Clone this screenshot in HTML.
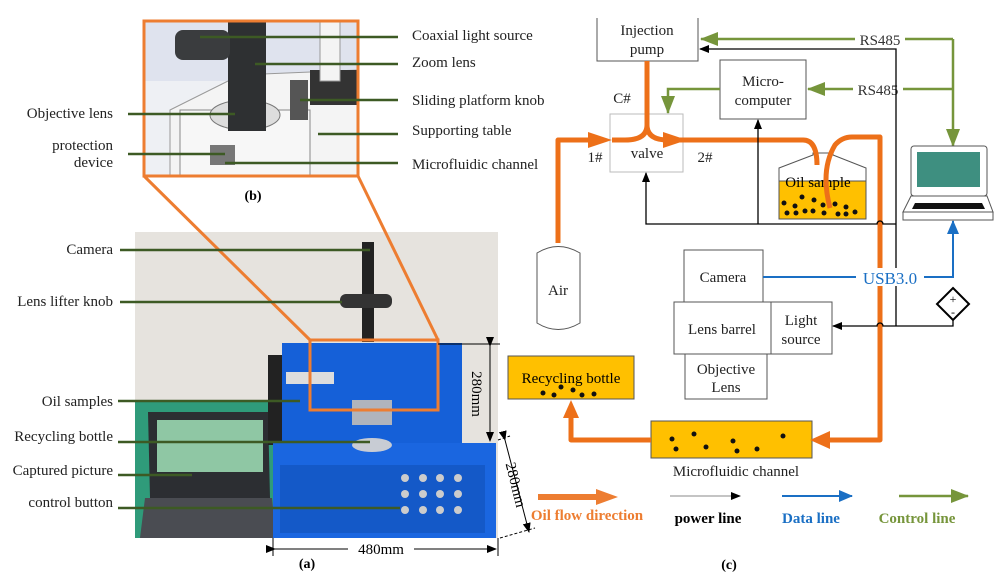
<!DOCTYPE html>
<html><head><meta charset="utf-8"><style>
html,body{margin:0;padding:0;background:#fff;}
svg{display:block;font-family:"Liberation Serif",serif;}
</style></head><body>
<svg width="1008" height="581" viewBox="0 0 1008 581" xmlns="http://www.w3.org/2000/svg">
<defs>
<marker id="ab" markerWidth="10" markerHeight="8" refX="9" refY="4" orient="auto" markerUnits="userSpaceOnUse"><path d="M0,0L10,4L0,8z" fill="#000"/></marker>
<marker id="ag" markerWidth="18" markerHeight="14" refX="17" refY="7" orient="auto" markerUnits="userSpaceOnUse"><path d="M0,0L18,7L0,14z" fill="#76953b"/></marker>
<marker id="abl" markerWidth="14" markerHeight="12" refX="13" refY="6" orient="auto" markerUnits="userSpaceOnUse"><path d="M0,0L14,6L0,12z" fill="#1a6fc4"/></marker>
</defs>

<!-- (b) photo -->
<rect x="144" y="21" width="214" height="155" fill="#eef0f4"/>
<rect x="144" y="21" width="214" height="60" fill="#dfe3ee"/>
<polygon points="170,110 240,75 358,70 358,176 170,176" fill="#f4f4f4" stroke="#999"/>
<rect x="180" y="110" width="130" height="66" fill="#f7f7f7" stroke="#888"/>
<ellipse cx="245" cy="115" rx="35" ry="15" fill="#ddd" stroke="#777"/>
<rect x="228" y="21" width="38" height="110" fill="#2e3032"/>
<rect x="175" y="30" width="55" height="30" rx="8" fill="#3a3c3e"/>
<rect x="290" y="80" width="18" height="40" fill="#555"/>
<rect x="310" y="70" width="48" height="35" fill="#333"/>
<rect x="320" y="21" width="20" height="60" fill="#f4f4f4" stroke="#999"/>
<rect x="210" y="145" width="25" height="20" fill="#777"/>
<rect x="144" y="21" width="214" height="155" fill="none" stroke="#ed7d31" stroke-width="3"/>
<text x="253" y="200" font-size="14" font-weight="bold" text-anchor="middle">(b)</text>

<!-- (a) photo -->
<rect x="135" y="232" width="363" height="306" fill="#e6e3de"/>
<rect x="135" y="400" width="140" height="138" fill="#2f9b7a"/>
<polygon points="148,412 268,412 270,498 150,498" fill="#2c2e32"/>
<rect x="157" y="420" width="106" height="52" fill="#8fc7a4"/>
<polygon points="145,498 272,498 276,538 140,538" fill="#4a4c52"/>
<rect x="268" y="355" width="20" height="90" fill="#222"/>
<rect x="282" y="343" width="180" height="100" fill="#1560d8"/>
<rect x="273" y="443" width="223" height="95" fill="#1a66e0"/>
<rect x="280" y="465" width="205" height="68" fill="#1459c8"/>
<rect x="286" y="372" width="48" height="12" fill="#ddd"/>
<rect x="352" y="400" width="40" height="25" fill="#b0b4bc"/>
<ellipse cx="372" cy="445" rx="20" ry="7" fill="#c8ccd4"/>
<rect x="362" y="242" width="12" height="100" fill="#222"/>
<rect x="340" y="294" width="52" height="14" rx="6" fill="#333"/>
<g fill="#ccc"><circle cx="405" cy="478" r="4"/><circle cx="423" cy="478" r="4"/><circle cx="440" cy="478" r="4"/><circle cx="458" cy="478" r="4"/><circle cx="405" cy="494" r="4"/><circle cx="423" cy="494" r="4"/><circle cx="440" cy="494" r="4"/><circle cx="458" cy="494" r="4"/><circle cx="405" cy="510" r="4"/><circle cx="423" cy="510" r="4"/><circle cx="440" cy="510" r="4"/><circle cx="458" cy="510" r="4"/></g>
<rect x="310" y="340" width="128" height="70" fill="none" stroke="#ed7d31" stroke-width="3"/>
<line x1="144" y1="176" x2="310" y2="340" stroke="#ed7d31" stroke-width="3"/>
<line x1="358" y1="176" x2="438" y2="340" stroke="#ed7d31" stroke-width="3"/>

<!-- dimensions -->
<g stroke="#000" stroke-width="1">
<line x1="438" y1="344" x2="500" y2="344"/>
<line x1="490" y1="346" x2="490" y2="441" marker-start="url(#ab)" marker-end="url(#ab)"/>
<line x1="498" y1="440" x2="510" y2="436" stroke-dasharray="3,2"/>
<line x1="500" y1="538" x2="535" y2="528" stroke-dasharray="3,2"/>
<line x1="505" y1="440" x2="529" y2="532" marker-start="url(#ab)" marker-end="url(#ab)"/>
<line x1="273" y1="538" x2="273" y2="556"/><line x1="498" y1="538" x2="498" y2="556"/>
<line x1="275" y1="549" x2="348" y2="549" marker-start="url(#ab)"/>
<line x1="414" y1="549" x2="496" y2="549" marker-end="url(#ab)"/>
</g>
<text transform="translate(472,394) rotate(90)" font-size="15" text-anchor="middle">280mm</text>
<text transform="translate(511,486) rotate(76)" font-size="15" text-anchor="middle">280mm</text>
<text x="381" y="554" font-size="15" text-anchor="middle">480mm</text>
<text x="307" y="568" font-size="14" font-weight="bold" text-anchor="middle">(a)</text>

<!-- labels left -->
<g font-size="15" text-anchor="end" fill="#222">
<text x="113" y="118">Objective lens</text>
<text x="113" y="150">protection</text>
<text x="113" y="167">device</text>
<text x="113" y="254">Camera</text>
<text x="113" y="306">Lens lifter knob</text>
<text x="113" y="406">Oil samples</text>
<text x="113" y="441">Recycling bottle</text>
<text x="113" y="475">Captured picture</text>
<text x="113" y="507">control button</text>
</g>
<g stroke="#3d5a24" stroke-width="2.5">
<line x1="128" y1="114" x2="235" y2="114"/>
<line x1="128" y1="154" x2="225" y2="154"/>
<line x1="120" y1="250" x2="370" y2="250"/>
<line x1="120" y1="302" x2="342" y2="302"/>
<line x1="118" y1="401" x2="300" y2="401"/>
<line x1="118" y1="442" x2="370" y2="442"/>
<line x1="118" y1="475" x2="192" y2="475"/>
<line x1="118" y1="508" x2="400" y2="508"/>
<line x1="200" y1="37" x2="398" y2="37"/>
<line x1="255" y1="64" x2="398" y2="64"/>
<line x1="300" y1="100" x2="398" y2="100"/>
<line x1="318" y1="134" x2="398" y2="134"/>
<line x1="225" y1="163" x2="398" y2="163"/>
</g>
<g font-size="15" fill="#222">
<text x="412" y="40">Coaxial light source</text>
<text x="412" y="67">Zoom lens</text>
<text x="412" y="105">Sliding platform knob</text>
<text x="412" y="135">Supporting table</text>
<text x="412" y="169">Microfluidic channel</text>
</g>

<!-- (c) diagram -->
<g fill="none" stroke="#555" stroke-width="1">
<polyline points="597,18 597,61 698,61 698,18"/>
<rect x="720" y="60" width="86" height="59"/>
<rect x="610" y="114" width="73" height="58" stroke="#bbb"/>
<rect x="684" y="250" width="79" height="52"/>
<rect x="674" y="302" width="97" height="52"/>
<rect x="771" y="302" width="61" height="52"/>
<rect x="685" y="354" width="82" height="45"/>
<path d="M537,253 Q558,240 580,253 L580,323 Q558,336 537,323 Z"/>
</g>
<g font-size="15" fill="#222" text-anchor="middle">
<text x="647" y="35">Injection</text><text x="647" y="54">pump</text>
<text x="763" y="86">Micro-</text><text x="763" y="105">computer</text>
<text x="647" y="158">valve</text>
<text x="622" y="103">C#</text><text x="595" y="162">1#</text><text x="705" y="162">2#</text>
<text x="558" y="295">Air</text>
<text x="723" y="282">Camera</text>
<text x="722" y="334">Lens barrel</text>
<text x="801" y="325">Light</text><text x="801" y="344">source</text>
<text x="726" y="374">Objective</text><text x="726" y="392">Lens</text>
<text x="736" y="476">Microfluidic channel</text>
</g>
<!-- oil sample -->
<path d="M779,168 L813,155 L813,153 L833,153 L833,155 L866,168 L866,219 L779,219 Z" fill="#fff" stroke="#555"/>
<rect x="779" y="181" width="87" height="38" fill="#ffc000" stroke="#555"/>
<text x="818" y="187" font-size="15" text-anchor="middle">Oil sample</text>
<g fill="#111"><circle cx="784" cy="203" r="2.5"/><circle cx="795" cy="206" r="2.5"/><circle cx="802" cy="197" r="2.5"/><circle cx="814" cy="200" r="2.5"/><circle cx="823" cy="205" r="2.5"/><circle cx="835" cy="204" r="2.5"/><circle cx="846" cy="207" r="2.5"/><circle cx="787" cy="213" r="2.5"/><circle cx="796" cy="213" r="2.5"/><circle cx="805" cy="211" r="2.5"/><circle cx="813" cy="211" r="2.5"/><circle cx="824" cy="213" r="2.5"/><circle cx="838" cy="214" r="2.5"/><circle cx="846" cy="214" r="2.5"/><circle cx="855" cy="212" r="2.5"/></g>
<!-- recycling -->
<rect x="508" y="356" width="126" height="43" fill="#ffc000" stroke="#555"/>
<text x="571" y="383" font-size="15" text-anchor="middle">Recycling bottle</text>
<g fill="#111"><circle cx="543" cy="393" r="2.5"/><circle cx="554" cy="395" r="2.5"/><circle cx="561" cy="387" r="2.5"/><circle cx="573" cy="390" r="2.5"/><circle cx="582" cy="395" r="2.5"/><circle cx="594" cy="394" r="2.5"/></g>
<!-- microfluidic -->
<rect x="651" y="421" width="161" height="37" fill="#ffc000" stroke="#555"/>
<g fill="#111"><circle cx="672" cy="439" r="2.5"/><circle cx="694" cy="434" r="2.5"/><circle cx="676" cy="449" r="2.5"/><circle cx="706" cy="447" r="2.5"/><circle cx="733" cy="441" r="2.5"/><circle cx="737" cy="451" r="2.5"/><circle cx="757" cy="449" r="2.5"/><circle cx="783" cy="436" r="2.5"/></g>

<!-- orange pipes -->
<g fill="none" stroke="#ed7019" stroke-width="5" stroke-linejoin="round">
<path d="M558,243 L558,140 L600,140"/>
<path d="M647,61 L647,125 Q647,140 625,140 L612,140"/>
<path d="M647,125 Q647,140 668,140 L683,140 L803,140 Q817,140 817,165"/>
<path d="M830,208 Q820,170 835,145 Q842,137 852,137 L880,137 L880,440 L825,440"/>
<path d="M651,440 L571,440 L571,410"/>
</g>
<g fill="#ed7019">
<path d="M588,132 L612,140 L588,148Z"/>
<path d="M663,132 L687,140 L663,148Z"/>
<path d="M810,440 L830,431 L830,449Z"/>
<path d="M571,400 L563,418 L579,418Z"/>
</g>

<!-- green control -->
<g fill="none" stroke="#76953b" stroke-width="2.5">
<line x1="953" y1="39" x2="701" y2="39" marker-end="url(#ag)"/>
<line x1="953" y1="39" x2="953" y2="146" marker-end="url(#ag)"/>
<line x1="953" y1="89" x2="808" y2="89" marker-end="url(#ag)"/>
<polyline points="720,89 668,89 668,113" marker-end="url(#ag)"/>
</g>
<rect x="855" y="31" width="50" height="16" fill="#fff"/>
<text x="880" y="45" font-size="15" text-anchor="middle" fill="#333">RS485</text>
<rect x="853" y="81" width="50" height="16" fill="#fff"/>
<text x="878" y="95" font-size="15" text-anchor="middle" fill="#333">RS485</text>

<!-- black power -->
<g fill="none" stroke="#000" stroke-width="1.3">
<polyline points="896,326 896,49 700,49" marker-end="url(#ab)"/>
<path d="M896,224 L883,224 A3,3 0 0 0 877,224 L646,224 L646,173" marker-end="url(#ab)"/>
<line x1="758" y1="224" x2="758" y2="120" marker-end="url(#ab)"/>
<path d="M953,318 L953,326 L883,326 A3,3 0 0 0 877,326 L833,326" marker-end="url(#ab)"/>
</g>
<path d="M953,288 L969,304 L953,320 L937,304Z" fill="#fff" stroke="#000" stroke-width="2"/>
<text x="953" y="303" font-size="12" text-anchor="middle">+</text>
<text x="953" y="316" font-size="12" text-anchor="middle">-</text>

<!-- blue data -->
<g fill="none" stroke="#1a6fc4" stroke-width="2">
<polyline points="763,277 953,277 953,221" marker-end="url(#abl)"/>
</g>
<rect x="856" y="268" width="68" height="18" fill="#fff"/>
<text x="890" y="284" font-size="17" text-anchor="middle" fill="#1a6fc4">USB3.0</text>

<!-- laptop -->
<rect x="911" y="146" width="76" height="50" rx="3" fill="#fff" stroke="#555"/>
<rect x="917" y="152" width="63" height="35" fill="#3e8f80"/>
<polygon points="911,196 987,196 993,212 903,212" fill="#fff" stroke="#555"/>
<rect x="903" y="212" width="90" height="8" fill="#fff" stroke="#555"/>
<polygon points="915,203 982,203 985,209 912,209" fill="#111"/>

<!-- legend -->
<line x1="538" y1="497" x2="600" y2="497" stroke="#ed7d31" stroke-width="6"/>
<path d="M596,489 L618,497 L596,505Z" fill="#ed7d31"/>
<text x="587" y="520" font-size="15" font-weight="bold" fill="#ed7d31" text-anchor="middle">Oil flow direction</text>
<line x1="670" y1="496" x2="740" y2="496" stroke="#888" stroke-width="1" marker-end="url(#ab)"/>
<text x="708" y="523" font-size="15" font-weight="bold" text-anchor="middle">power line</text>
<line x1="782" y1="496" x2="852" y2="496" stroke="#1a6fc4" stroke-width="2" marker-end="url(#abl)"/>
<text x="811" y="523" font-size="15" font-weight="bold" fill="#1a6fc4" text-anchor="middle">Data line</text>
<line x1="899" y1="496" x2="968" y2="496" stroke="#76953b" stroke-width="2.5" marker-end="url(#ag)"/>
<text x="917" y="523" font-size="15" font-weight="bold" fill="#76953b" text-anchor="middle">Control line</text>
<text x="729" y="569" font-size="14" font-weight="bold" text-anchor="middle">(c)</text>
</svg>
</body></html>
